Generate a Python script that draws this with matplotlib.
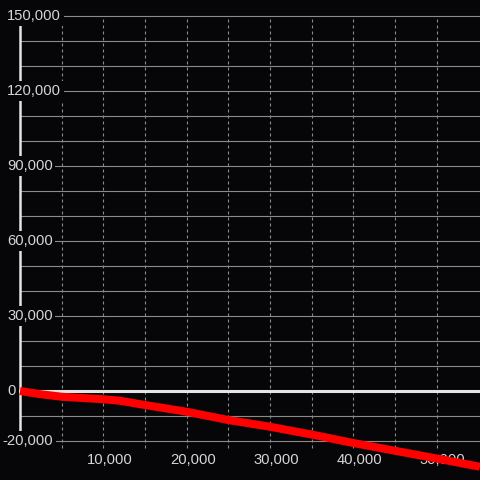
import matplotlib
matplotlib.use("Agg")
import matplotlib.pyplot as plt
from matplotlib.transforms import offset_copy

plt.rcParams["font.family"] = ["Liberation Sans", "DejaVu Sans"]

BG = "#060508"
GRID = "#8a8a8a"
AXIS = "#e4e4e4"
TEXT = "#d6d6d6"
LINE = "#ff0000"

# serie
x_vals = [0, 2500, 5000, 10000, 12000, 15000, 20000, 25000, 30000,
          35000, 40000, 45000, 50000, 55200]
y_vals = [0, -1300, -2300, -3300, -3900, -5600, -8300, -11600, -14300,
          -17400, -20800, -23900, -27000, -30300]

y_ticks = [150000, 120000, 90000, 60000, 30000, 0, -20000]
x_ticks = [10000, 20000, 30000, 40000, 50000]
h_grid = list(range(-20000, 150001, 10000))
v_grid = list(range(5000, 50001, 5000))

XLIM = (-2400, 55200)
YLIM = (-35600, 156400)

fig = plt.figure(figsize=(4.8, 4.8), dpi=100, facecolor=BG)
ax = fig.add_axes([0, 0, 1, 1])
ax.set_facecolor(BG)
ax.set_xlim(*XLIM)
ax.set_ylim(*YLIM)
ax.axis("off")

# griglia orizzontale (continua) e verticale (tratteggiata)
for g in h_grid:
    if g == 0:
        continue
    ax.plot([0, XLIM[1]], [g, g], color=GRID, lw=0.8, zorder=1)
for g in v_grid:
    ax.plot([g, g], [-22800, 150000], color=GRID, lw=0.8,
            dashes=(2.7, 2.7), zorder=1)

# linea dello zero e asse verticale
ax.plot([0, XLIM[1]], [0, 0], color=AXIS, lw=2.2, zorder=2)
ax.plot([0, 0], [-20000, 150000], color=AXIS, lw=1.8, zorder=3)

# etichette asse y (con sfondo che copre asse e griglia)
for v in y_ticks:
    px = 2.7 if v < 0 else 7
    ax.text(px / 480, v, f"{v:,}", transform=ax.get_yaxis_transform(),
            ha="left", va="center", color=TEXT, fontsize=10.6, zorder=4,
            bbox=dict(boxstyle="square,pad=0.18", fc=BG, ec="none"))

# etichette asse x
tr = offset_copy(ax.transData, fig=fig, x=6, y=0, units="dots")
for v in x_ticks:
    ax.text(v, -27700, f"{v:,}", transform=tr, ha="center", va="center",
            color=TEXT, fontsize=10.6, zorder=4)

# serie
ax.plot(x_vals, y_vals, color=LINE, lw=5.8, solid_capstyle="butt", zorder=5)

fig.savefig("out.png", dpi=100, facecolor=BG)
